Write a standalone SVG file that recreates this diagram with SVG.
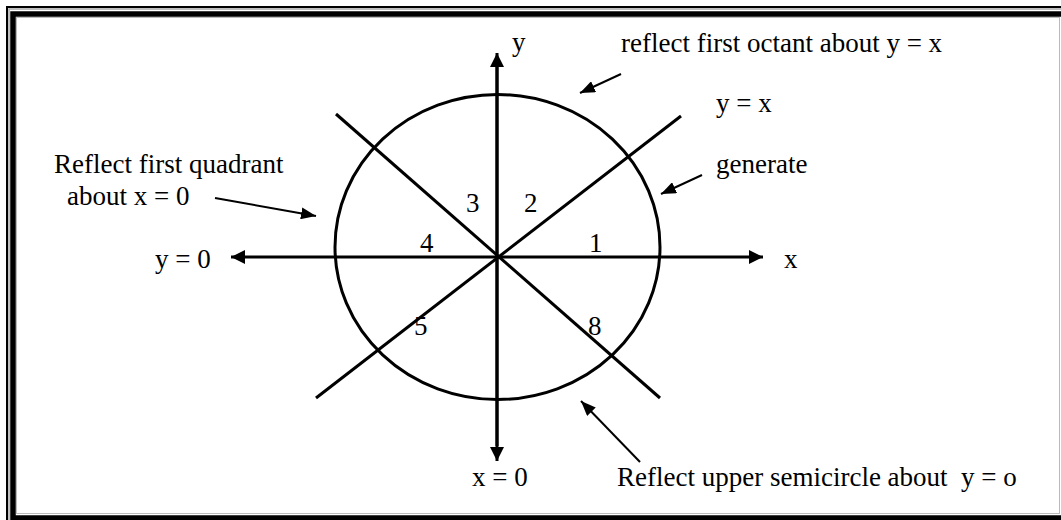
<svg xmlns="http://www.w3.org/2000/svg" width="1061" height="520" viewBox="0 0 1061 520">
<style>
text { font-family: "Liberation Serif", "Times New Roman", serif; font-size: 27px; fill: #000; }
.ax { stroke: #000; stroke-width: 3; fill: none; }
.ptr { stroke: #000; stroke-width: 2; fill: none; }
</style>
<defs>
<marker id="axhead" markerUnits="userSpaceOnUse" markerWidth="16" markerHeight="14" refX="14" refY="7" orient="auto">
<path d="M0,0 L14,7 L0,14 Z" fill="#000"/>
</marker>
<marker id="ptrhead" markerUnits="userSpaceOnUse" markerWidth="16" markerHeight="12" refX="15" refY="6" orient="auto">
<path d="M0,0 L15,6 L0,12 Z" fill="#000"/>
</marker>
</defs>
<rect x="0" y="0" width="1061" height="520" fill="#fff"/>
<g id="frame">
<rect x="7" y="7" width="1070" height="520" fill="none" stroke="#000" stroke-width="2"/>
<rect x="9" y="9" width="1070" height="520" fill="none" stroke="#aaa" stroke-width="1.5"/>
<rect x="13" y="14" width="1070" height="504" fill="none" stroke="#000" stroke-width="5.5"/>
<rect x="16.5" y="17.5" width="1043" height="496" fill="none" stroke="#bbb" stroke-width="1"/>
</g>
<g id="circle">
<ellipse cx="497.5" cy="247" rx="162.5" ry="152.5" fill="none" stroke="#000" stroke-width="3"/>
</g>
<g id="connectors">
<line class="ax" x1="497" y1="446" x2="497" y2="53" marker-end="url(#axhead)"/>
<line class="ax" x1="497" y1="66" x2="497" y2="461" marker-end="url(#axhead)"/>
<line class="ax" x1="497" y1="257" x2="763" y2="257" marker-end="url(#axhead)"/>
<line class="ax" x1="497" y1="257" x2="231" y2="257" marker-end="url(#axhead)"/>
<line class="ax" x1="316" y1="398" x2="681" y2="116"/>
<line class="ax" x1="336" y1="114" x2="660" y2="398"/>
<line class="ptr" x1="621" y1="74" x2="580" y2="93" marker-end="url(#ptrhead)"/>
<line class="ptr" x1="702" y1="175" x2="661" y2="194" marker-end="url(#ptrhead)"/>
<line class="ptr" x1="215" y1="198" x2="316" y2="216" marker-end="url(#ptrhead)"/>
<line class="ptr" x1="640" y1="462" x2="581" y2="401" marker-end="url(#ptrhead)"/>
</g>
<g id="labels">
<text x="512" y="51">y</text>
<text x="621" y="52">reflect first octant about y = x</text>
<text x="716" y="112">y = x</text>
<text x="716" y="173">generate</text>
<text x="54" y="173">Reflect first quadrant</text>
<text x="67" y="205">about x = 0</text>
<text x="155" y="268">y = 0</text>
<text x="784" y="268">x</text>
<text x="472" y="486">x = 0</text>
<text x="617" y="486" xml:space="preserve">Reflect upper semicircle about  y = o</text>
</g>
<g id="octants">
<text x="466" y="212">3</text>
<text x="524" y="212">2</text>
<text x="420" y="252">4</text>
<text x="589" y="252">1</text>
<text x="414" y="335">5</text>
<text x="588" y="335">8</text>
</g>
</svg>
